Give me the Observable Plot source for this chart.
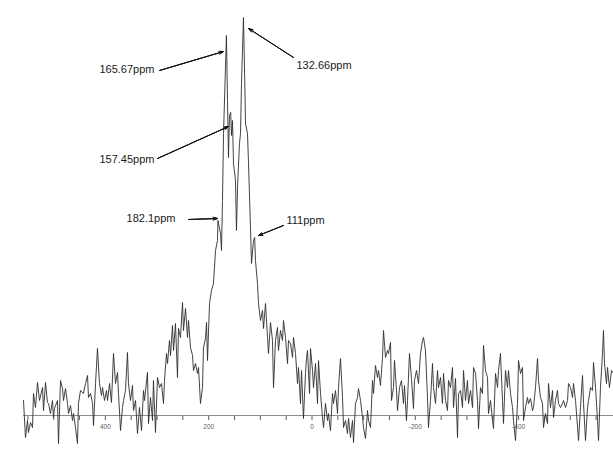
<!DOCTYPE html>
<html>
<head>
<meta charset="utf-8">
<script src="https://cdn.jsdelivr.net/npm/d3@7"></script>
<script src="https://cdn.jsdelivr.net/npm/@observablehq/plot@0.6"></script>
<style>
  html, body { margin: 0; padding: 0; background: #fff; }
  #chart { width: 613px; height: 452px; }
</style>
</head>
<body>
<div id="chart"></div>
<script>
// Chemical shift (ppm) of each traced point of the spectrum
const ppm = [
  558.5, 554.7, 550.8, 548.9, 545.0, 541.1, 539.2, 535.3, 531.4, 527.6, 521.7, 519.8, 515.9, 512.1, 510.1, 506.3,
  502.4, 500.5, 498.5, 492.7, 490.8, 486.9, 483.0, 481.1, 477.2, 473.3, 471.4, 467.5, 463.7, 461.7, 457.9, 454.0,
  452.1, 448.2, 442.4, 438.5, 434.6, 432.7, 428.8, 424.9, 423.0, 419.1, 415.3, 411.4, 407.5, 405.6, 401.7, 397.8,
  395.9, 392.0, 388.2, 384.3, 380.4, 376.5, 374.6, 370.7, 366.9, 364.9, 361.1, 357.2, 355.3, 351.4, 347.5, 345.6,
  341.7, 337.8, 334.0, 330.1, 326.2, 324.3, 318.5, 316.5,
  312.7, 308.8, 306.9, 303.0, 299.1, 295.2, 291.4, 287.5, 285.6, 281.7, 279.7, 275.9, 273.9, 270.1, 268.1, 264.3,
  260.4, 258.5, 254.6, 250.7, 248.8, 244.9, 241.0, 239.1, 235.2, 231.3, 229.4, 225.5, 221.7, 219.7, 215.9, 212.0,
  210.1, 206.2, 204.2, 202.3, 198.4, 194.6, 190.7, 186.8, 182.9, 182.1, 177.1, 175.2, 173.3, 171.3, 167.5, 165.67,
  163.6, 161.7, 159.7, 157.45, 155.8, 153.9, 152.0, 148.1, 146.2, 144.2, 140.4, 138.4, 136.5, 132.66, 130.7, 128.7,
  124.9, 122.9, 119.1, 117.1, 113.3, 111.0, 109.4, 105.5,
  103.6, 99.7, 95.8, 93.9, 90.0, 86.1, 84.2, 80.3, 76.5, 74.5, 70.7, 66.8, 64.9, 61.0, 57.1, 55.2,
  51.3, 47.4, 45.5, 41.6, 37.7, 35.8, 31.9, 28.1, 26.1, 22.3, 20.3, 16.5, 12.6, 10.6, 8.7, 4.8,
  2.9, -1.0, -2.9, -6.8, -10.7, -12.6, -16.5, -20.3, -22.3,
  -26.1, -30.0, -31.9, -35.8, -39.7, -41.6, -45.5, -49.4, -51.3, -55.2, -59.1, -61.0, -64.9, -68.7, -70.7, -74.5,
  -78.4, -80.4, -84.2, -88.1, -90.0, -93.9, -97.8, -99.7, -103.6, -107.5, -109.4, -113.3, -117.1, -119.1, -122.9, -126.8,
  -128.7, -132.6, -136.5, -138.4, -142.3, -146.2, -148.1, -152.0, -153.9, -157.8, -159.7, -163.6, -165.5, -169.4, -173.3, -177.1,
  -179.1, -182.9, -184.9, -188.7, -192.6, -196.5, -198.4, -202.3, -206.2, -210.1, -213.9, -215.9, -219.7, -223.6, -225.5, -229.4,
  -233.3, -235.2, -239.1, -243.0, -244.9, -248.8, -252.6, -254.6, -258.5, -262.3, -264.3, -268.1, -272.0, -274.0, -277.8, -281.7,
  -283.7,
  -287.5, -291.4, -293.3, -297.2, -301.0, -303.0, -306.9, -310.8, -312.7, -316.6, -320.4, -322.4, -326.2, -330.1, -332.0, -335.9,
  -339.8, -341.7, -345.6, -349.5, -351.4, -355.3, -359.2, -361.1, -364.9, -368.8, -370.8, -374.6, -378.5, -380.4, -384.3, -388.2,
  -390.1, -394.0, -397.9, -399.8, -403.7, -407.5, -409.5, -413.3, -417.2, -419.1, -423.0, -426.9, -428.8, -432.7, -436.6, -438.5,
  -442.4, -446.2, -448.2, -452.1, -455.9, -457.9, -461.7, -465.6, -467.6, -471.4, -475.3, -477.2, -481.1, -485.0, -486.9, -490.8,
  -494.7, -496.6, -500.5, -504.4, -506.3, -510.2, -514.1, -516.0, -519.8, -523.7, -525.7, -529.5, -533.4, -535.4, -539.2, -543.1,
  -545.0, -548.9, -552.8, -554.7, -558.5, -562.4, -564.3, -566.3, -570.1, -572.1, -575.9, -579.8, -583.7
];

// Signal intensity (arbitrary units) at each of those shifts
const intensity = [
  15, -22, -5, -17, -7, -12, 22, 8, 33, 15, 28, 5, 33, 13, 12, 2,
  15, -2, 7, 15, -28, 35, 27, 15, 27, 12, 2, 10, -5, 2, -12, -28,
  12, 25, 22, 32, 40, 18, 22, 12, -10, 32, 67, 32, 20, 28, 15, 25,
  15, 32, 13, 62, 32, 43, 22, -15, 8, 15, 25, 63, 32, 15, 30, 5,
  15, -18, 8, -15, 25, 15, 43, -8,
  18, -5, 35, -17, 38, 28, 32, 12, 35, 62, 52, 75, 60, 90, 65, 92,
  38, 87, 78, 113, 85, 107, 78, 95, 68, 60, 45, 52, 42, 48, 12, 28,
  68, 77, 93, 55, 112, 125, 132, 165, 175, 195, 182, 165, 215, 282, 348, 380,
  315, 258, 300, 303, 280, 295, 252, 235, 185, 228, 272, 282, 332, 398, 348, 292,
  282, 252, 188, 152, 175, 178, 155, 132,
  112, 95, 105, 87, 112, 78, 62, 93, 75, 28, 75, 88, 65, 85, 75, 95,
  78, 52, 75, 72, 58, 78, 62, 32, 48, 12, 45, -3, 42, 58, 65, 22,
  67, 45, 28, 52, 12, 55, 22, -2, -12,
  12, -5, 2, -15, 22, 12, 25, 2, 28, 57, 18, -12, -5, -18, -3, -22,
  -5, -27, 12, 18, 27, 15, -2, -12, -23, 5, -5, -12, 35, 22, 50, 38,
  45, 30, 58, 85, 58, 65, 62, 73, 15, 28, 55, 25, 5, 28, 35, 12,
  30, -5, 15, 62, 37, 7, 35, 45, 32, 62, 75, 78, 65, 18, -12, 15,
  52, 28, 12, 45, 28, 38, 12, 42, 15, 5, 35, 28, 48, 8, 37, -22,
  22,
  25, 8, 45, 15, 35, 12, 25, 8, 48, 42, 15, -13, 28, 22, 70, 45,
  38, 2, 15, -5, -13, 42, 28, 45, 62, 15, -8, 45, 28, 45, 22, 8,
  -5, -25, 12, 55, 42, 48, -5, 8, 18, 12, 17, 5, 8, 28, 57, 35,
  18, 12, -12, 2, -8, 32, 8, 25, -2, 15, 25, 12, 8, 12, 15, 8,
  15, 32, 28, 18, 32, 15, -12, -25, 8, 40, 12, -25, 8, 15, 28, 25,
  53, 28, -5, -25, 28, 62, 85, 52, 32, 48, 28, 45, 42
];

// Axis ticks and labels
const tickValues = [550, 500, 450, 400, 350, 300, 250, 200, 150, 100, 50, 0, -50, -100, -150, -200, -250, -300, -350, -400, -450, -500, -550];
const tickLabels = [400, 200, 0, -200, -400];

// Peak annotations
const peakLabels   = ["165.67ppm", "157.45ppm", "182.1ppm", "132.66ppm", "111ppm"];
const labelPpm     = [304.9, 304.9, 264.3, 30.0, 49.4];
const labelInt     = [346, 256, 197, 350, 195];
const labelSide    = ["left", "left", "left", "right", "right"];
const arrowFromPpm = [295.2, 299.1, 239.1, 35.8, 55.2];
const arrowFromInt = [345, 257, 196, 358, 190];
const arrowToPpm   = [171.3, 161.6, 183.0, 122.9, 103.6];
const arrowToInt   = [364, 289, 197, 387, 180];

const spectrum = ppm.map((p, i) => ({ppm: p, intensity: intensity[i]}));
const notes = peakLabels.map((t, i) => ({
  text: t, tx: labelPpm[i], ty: labelInt[i], side: labelSide[i],
  x1: arrowFromPpm[i], y1: arrowFromInt[i], x2: arrowToPpm[i], y2: arrowToInt[i]
}));
const font = "'Liberation Sans', Arial, sans-serif";

// Shaft drawn once; extra heads of increasing spread (drawn over a zero-length-free shaft) fill the wedge
const headAngles = [8, 16, 24, 32, 38];
const arrowMarks = headAngles.map((a, k) =>
  Plot.arrow(notes, {
    x1: "x1", y1: "y1", x2: "x2", y2: "y2",
    stroke: "#111", strokeWidth: k === headAngles.length - 1 ? 1 : 0.8,
    strokeOpacity: k === headAngles.length - 1 ? 1 : 0.55,
    headLength: 7, headAngle: a
  })
);

const chart = Plot.plot({
  width: 613,
  height: 452,
  marginLeft: 0,
  marginRight: 0,
  marginTop: 0,
  marginBottom: 37,
  style: {background: "#fff", color: "#5e5e5e", fontFamily: font, fontSize: "6.5px"},
  x: {
    domain: [603.06, -583.7],
    axis: "bottom",
    ticks: tickValues,
    tickSize: 5,
    tickPadding: 4,
    tickFormat: d => tickLabels.includes(d) ? String(d) : "",
    label: null
  },
  y: {domain: [0, 415], axis: null},
  marks: [
    Plot.ruleY([0], {x1: d3.max(ppm), x2: d3.min(ppm), stroke: "#8c8c8c", strokeWidth: 1}),
    Plot.line(spectrum, {x: "ppm", y: "intensity", stroke: "#2e2e2e", strokeWidth: 0.9}),
    ...arrowMarks,
    Plot.text(notes.filter(d => d.side === "left"), {x: "tx", y: "ty", text: "text", textAnchor: "end", fill: "#1a1a1a", fontSize: 11, fontFamily: font}),
    Plot.text(notes.filter(d => d.side === "right"), {x: "tx", y: "ty", text: "text", textAnchor: "start", fill: "#1a1a1a", fontSize: 11, fontFamily: font})
  ]
});
document.getElementById("chart").appendChild(chart);
</script>
</body>
</html>
